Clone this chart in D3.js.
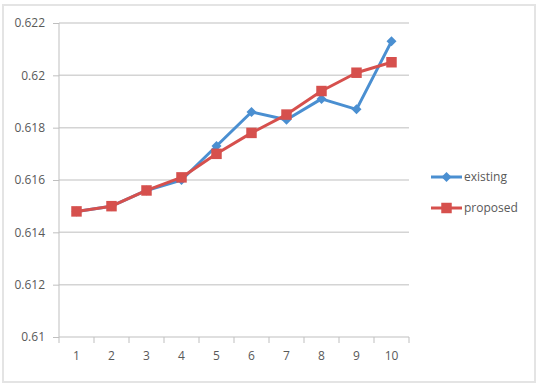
<!DOCTYPE html>
<html>
<head>
<meta charset="utf-8">
<script src="https://cdn.jsdelivr.net/npm/d3@7"></script>
<style>
  body { margin: 0; background: #fff; }
  text { font-family: "Open Sans", "Liberation Sans", sans-serif; fill: #595959; }
</style>
</head>
<body>
<div class="chart"></div>
<script>
var categories = ["1", "2", "3", "4", "5", "6", "7", "8", "9", "10"],
    existing = [0.6148, 0.6150, 0.6156, 0.6160, 0.6173, 0.6186, 0.6183, 0.6191, 0.6187, 0.6213],
    proposed = [0.6148, 0.6150, 0.6156, 0.6161, 0.6170, 0.6178, 0.6185, 0.6194, 0.6201, 0.6205],
    yTicks = [0.61, 0.612, 0.614, 0.616, 0.618, 0.62, 0.622],
    seriesNames = ["existing", "proposed"];

var outerWidth = 543,
    outerHeight = 387,
    margin = {left: 59, top: 23, right: 134, bottom: 50},
    width = outerWidth - margin.left - margin.right,
    height = outerHeight - margin.top - margin.bottom;

var xScale = d3.scaleBand().domain(categories).range([0, width]),
    yScale = d3.scaleLinear().domain([0.61, 0.622]).range([height, 0]),
    color = d3.scaleOrdinal().domain(seriesNames).range(["#4a8fd1", "#d6504d"]);

var root = d3.select(".chart").append("svg")
    .attr("width", outerWidth)
    .attr("height", outerHeight);

// chart frame
root.append("rect")
    .attr("x", 3).attr("y", 5)
    .attr("width", 532).attr("height", 377)
    .attr("fill", "#fff")
    .attr("stroke", "#e4e4e4")
    .attr("stroke-width", 2);

var svg = root.append("g")
    .attr("transform", "translate(" + margin.left + "," + margin.top + ")");

// gridlines
svg.append("g")
    .selectAll("line")
    .data(yTicks.slice(1))
    .enter().append("line")
      .attr("x1", 0).attr("x2", width)
      .attr("y1", function(d) { return yScale(d); })
      .attr("y2", function(d) { return yScale(d); })
      .attr("stroke", "#d4d4d4")
      .attr("stroke-width", 1.5);

var yAxis = d3.axisLeft(yScale).tickValues(yTicks).tickSize(6).tickPadding(8)
    .tickFormat(function(d) { return String(+d.toFixed(3)); });
var gy = svg.append("g").attr("class", "axis axis--y").call(yAxis);
gy.select(".domain").attr("stroke", "#bfbfbf").attr("d", "M0,0V" + height);
gy.selectAll(".tick line").attr("stroke", "#bfbfbf");
gy.selectAll("text").style("font-size", "12px");

var xAxis = d3.axisBottom(xScale).tickSize(0).tickPadding(14);
var gx = svg.append("g").attr("class", "axis axis--x")
    .attr("transform", "translate(0," + height + ")")
    .call(xAxis);
gx.select(".domain").attr("stroke", "#bfbfbf").attr("d", "M0,0H" + width);
gx.selectAll("text").style("font-size", "12px");
// category boundary ticks
gx.selectAll(".bound")
    .data(categories.concat(["end"]))
    .enter().append("line")
      .attr("class", "bound")
      .attr("x1", function(d, i) { return i * xScale.step(); })
      .attr("x2", function(d, i) { return i * xScale.step(); })
      .attr("y1", 0).attr("y2", 6)
      .attr("stroke", "#bfbfbf");

var data = [
  {key: "existing", values: existing},
  {key: "proposed", values: proposed}
];

var line = d3.line()
    .x(function(d, i) { return xScale(categories[i]) + xScale.bandwidth() / 2; })
    .y(function(d) { return yScale(d); });

// excel style diamond = square turned 45deg
var diamond = d3.symbol().type(d3.symbolSquare).size(50),
    square = d3.symbol().type(d3.symbolSquare).size(110);

function markerTransform(key) {
  return key == "existing" ? " rotate(45)" : "";
}

var layer = svg.selectAll(".series")
    .data(data)
    .enter().append("g")
    .attr("class", "series");

layer.append("path")
    .attr("d", function(d) { return line(d.values); })
    .attr("fill", "none")
    .attr("stroke", function(d) { return color(d.key); })
    .attr("stroke-width", 3)
    .attr("stroke-linejoin", "round");

layer.selectAll(".marker")
    .data(function(d) { return d.values.map(function(v, i) { return {key: d.key, v: v, i: i}; }); })
    .enter().append("path")
      .attr("class", "marker")
      .attr("transform", function(d) {
        return "translate(" + (xScale(categories[d.i]) + xScale.bandwidth() / 2) + "," + yScale(d.v) + ")" + markerTransform(d.key);
      })
      .attr("d", function(d) { return d.key == "existing" ? diamond() : square(); })
      .attr("fill", function(d) { return color(d.key); });

// legend
var legend = root.append("g").attr("transform", "translate(431,177)");
var item = legend.selectAll(".item")
    .data(seriesNames)
    .enter().append("g")
    .attr("transform", function(d, i) { return "translate(0," + (i * 31) + ")"; });
item.append("line")
    .attr("x1", 0).attr("x2", 31)
    .attr("stroke", function(d) { return color(d); })
    .attr("stroke-width", 3);
item.append("path")
    .attr("transform", function(d) { return "translate(15.5,0)" + markerTransform(d); })
    .attr("d", function(d) { return d == "existing" ? diamond() : square(); })
    .attr("fill", function(d) { return color(d); });
item.append("text")
    .attr("x", 33).attr("dy", "0.35em")
    .style("font-size", "12px")
    .text(function(d) { return d; });
</script>
</body>
</html>
